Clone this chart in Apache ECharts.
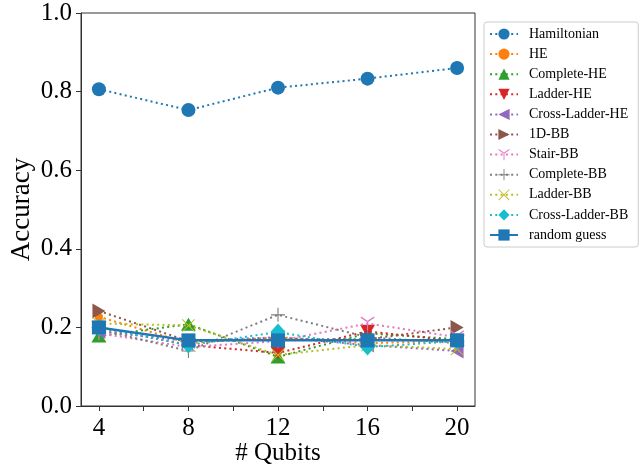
<!DOCTYPE html>
<html>
<head>
<meta charset="utf-8">
<script src="https://cdn.jsdelivr.net/npm/echarts@6/dist/echarts.min.js"></script>
<style>html,body{margin:0;padding:0;background:#fff;}#c{width:641px;height:466px;}</style>
</head>
<body>
<div id="c"></div>
<script>
const qubits = [4, 8, 12, 16, 20];
const xTickValues = [4, 6, 8, 10, 12, 14, 16, 18, 20];
const xLabelValues = [4, 8, 12, 16, 20];
const yTickValues = [0, 0.2, 0.4, 0.6, 0.8, 1.0];

const hamiltonian   = [0.806, 0.753, 0.810, 0.833, 0.860];
const he            = [0.227, 0.160, 0.175, 0.160, 0.165];
const completeHE    = [0.178, 0.208, 0.125, 0.185, 0.170];
const ladderHE      = [0.200, 0.155, 0.135, 0.190, 0.165];
const crossLadderHE = [0.190, 0.165, 0.175, 0.155, 0.140];
const oneDBB        = [0.242, 0.165, 0.170, 0.170, 0.200];
const stairBB       = [0.185, 0.150, 0.165, 0.210, 0.175];
const completeBB    = [0.195, 0.140, 0.232, 0.175, 0.160];
const ladderBB      = [0.210, 0.205, 0.130, 0.155, 0.145];
const crossLadderBB = [0.200, 0.155, 0.188, 0.150, 0.165];
const randomGuess   = [0.200, 0.167, 0.167, 0.167, 0.167];

const seriesNames = ['Hamiltonian','HE','Complete-HE','Ladder-HE','Cross-Ladder-HE','1D-BB','Stair-BB','Complete-BB','Ladder-BB','Cross-Ladder-BB','random guess'];
const seriesData = [hamiltonian, he, completeHE, ladderHE, crossLadderHE, oneDBB, stairBB, completeBB, ladderBB, crossLadderBB, randomGuess];
const colors = ['#1f77b4','#ff7f0e','#2ca02c','#d62728','#9467bd','#8c564b','#e377c2','#7f7f7f','#bcbd22','#17becf','#1f77b4'];

const triUp = 'path://M10,0L20,17.3L0,17.3Z';
const triDown = 'path://M0,0L20,0L10,17.3Z';
const triLeft = 'path://M0,10L17.3,0L17.3,20Z';
const triRight = 'path://M0,0L17.3,10L0,20Z';
const plus = 'path://M9.2,0H10.8V9.2H20V10.8H10.8V20H9.2V10.8H0V9.2H9.2Z';
const cross = 'path://M1.1,0L10,8.9L18.9,0L20,1.1L11.1,10L20,18.9L18.9,20L10,11.1L1.1,20L0,18.9L8.9,10L0,1.1Z';
const triY = 'path://M9.2,10H10.8V20H9.2Z M10.4,9.3L1.2,4L0.4,5.4L9.6,10.7Z M9.6,9.3L18.8,4L19.6,5.4L10.4,10.7Z';

const symbols = [
  ['circle', 14], ['circle', 8], [triUp, [15, 13]], [triDown, [15, 13]], [triLeft, [13, 15]],
  [triRight, [13, 15]], [triY, [14, 14]], [plus, [14, 14]], [cross, [13, 13]], ['diamond', [15, 17]], ['rect', 14]
];

const series = seriesNames.map((name, i) => ({
  name: name,
  type: 'line',
  data: qubits.map((q, j) => [q, seriesData[i][j]]),
  symbol: symbols[i][0],
  symbolSize: symbols[i][1],
  showSymbol: true,
  animation: false,
  z: 2 + i,
  itemStyle: { color: colors[i] },
  lineStyle: i === 10 ? { color: colors[i], width: 2.5, type: 'solid' } : { color: colors[i], width: 2, type: [2, 3.3] }
}));

const chart = echarts.init(document.getElementById('c'), null, { renderer: 'canvas' });
chart.setOption({
  backgroundColor: '#ffffff',
  animation: false,
  grid: { left: 81, top: 13, width: 394, height: 393, containLabel: false, outerBoundsMode: 'none', show: true, borderColor: '#333', borderWidth: 1, backgroundColor: 'transparent' },
  xAxis: {
    type: 'value', min: 3.2, max: 20.8,
    name: '# Qubits', nameLocation: 'middle', nameGap: 35, nameMoveOverlap: false,
    nameTextStyle: { fontFamily: 'Liberation Serif', fontSize: 25, color: '#000' },
    axisLine: { show: true, lineStyle: { color: '#333', width: 1 } },
    axisTick: { show: true, length: 5, customValues: xTickValues, lineStyle: { color: '#333' } },
    axisLabel: { customValues: xLabelValues, fontFamily: 'Liberation Serif', fontSize: 25, color: '#000', margin: 10 },
    splitLine: { show: false }
  },
  yAxis: {
    type: 'value', min: 0, max: 1,
    name: 'Accuracy', nameLocation: 'middle', nameGap: 46, nameMoveOverlap: false,
    nameTextStyle: { fontFamily: 'Liberation Serif', fontSize: 27, color: '#000' },
    axisLine: { show: true, lineStyle: { color: '#333', width: 1 } },
    axisTick: { show: true, length: 5, customValues: yTickValues, lineStyle: { color: '#333' } },
    axisLabel: { customValues: yTickValues, formatter: v => v.toFixed(1), fontFamily: 'Liberation Serif', fontSize: 25, color: '#000', margin: 9 },
    splitLine: { show: false }
  },
  legend: {
    orient: 'vertical', left: 484, top: 22,
    data: seriesNames,
    itemWidth: 28, itemHeight: 14, itemGap: 6.1,
    padding: [5, 10, 5, 5],
    borderColor: '#cccccc', borderWidth: 1, borderRadius: 3,
    backgroundColor: 'rgba(255,255,255,0.8)',
    textStyle: { fontFamily: 'Liberation Serif', fontSize: 14, color: '#000', padding: [0, 0, 0, 6] }
  },
  series: series
});
</script>
</body>
</html>
